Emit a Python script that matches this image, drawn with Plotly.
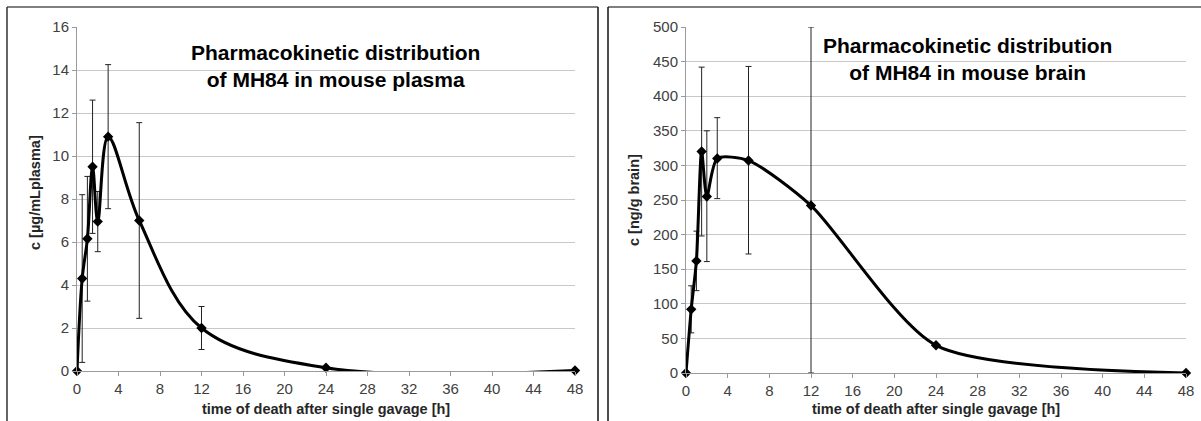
import plotly.graph_objects as go

W, H = 1201, 421

# sampling times [h]
times = [0, 0.5, 1, 1.5, 2, 3, 6, 12, 24, 48]

# plasma concentration [ug/mL] and error bars
plasma = [0, 4.3, 6.15, 9.5, 6.95, 10.9, 7.0, 2.0, 0.15, 0.02]
plasma_err = [0, 3.9, 2.9, 3.1, 1.4, 3.35, 4.55, 1.0, 0, 0]

# brain concentration [ng/g] and error bars
brain = [0, 92, 162, 320, 255, 310, 307, 242, 40, 0]
brain_err_up = [0, 34, 43, 122, 95, 59, 136, 258, 0, 0]
brain_err_down = [0, 34, 43, 122, 94, 58, 135, 242, 0, 0]

x_ticks = list(range(0, 49, 4))


def px(x):
    return x / W


def py(y):
    return 1 - y / H


fig = go.Figure()

fig.add_trace(go.Scatter(
    x=times, y=plasma, xaxis='x', yaxis='y',
    mode='lines+markers',
    line=dict(color='black', width=3, shape='spline', smoothing=1),
    marker=dict(symbol='diamond', size=8, color='black'),
    error_y=dict(type='data', array=plasma_err, color='#222222', thickness=1, width=3),
    cliponaxis=False, showlegend=False))

fig.add_trace(go.Scatter(
    x=times, y=brain, xaxis='x2', yaxis='y2',
    mode='lines+markers',
    line=dict(color='black', width=3, shape='spline', smoothing=0.7),
    marker=dict(symbol='diamond', size=8, color='black'),
    error_y=dict(type='data', array=brain_err_up, arrayminus=brain_err_down,
                 symmetric=False, color='#222222', thickness=1, width=3),
    cliponaxis=False, showlegend=False))

tick_font = dict(family='Liberation Sans, Arial', size=15, color='#404040')

xaxis_style = dict(range=[0, 48], tickvals=x_ticks, showgrid=False, zeroline=False,
                   showline=True, linecolor='#9a9a9a', linewidth=1,
                   ticks='outside', ticklen=4, tickcolor='#9a9a9a',
                   tickfont=tick_font, automargin=False)
yaxis_style = dict(showgrid=True, gridcolor='#c8c8c8', gridwidth=1, zeroline=False,
                   showline=True, linecolor='#9a9a9a', linewidth=1,
                   ticks='outside', ticklen=4, tickcolor='#9a9a9a',
                   tickfont=tick_font, automargin=False)

fig.update_layout(
    width=W, height=H,
    margin=dict(l=0, r=0, t=0, b=0, pad=0),
    paper_bgcolor='white', plot_bgcolor='white',
    xaxis=dict(domain=[px(77), px(575)], anchor='y', **xaxis_style),
    yaxis=dict(domain=[py(371), py(27)], anchor='x', range=[0, 16], dtick=2, **yaxis_style),
    xaxis2=dict(domain=[px(686), px(1186)], anchor='y2', **xaxis_style),
    yaxis2=dict(domain=[py(373), py(27)], anchor='x2', range=[0, 500], dtick=50, **yaxis_style),
)

title_font = dict(family='Liberation Sans, Arial', size=21, color='black')
label_font = dict(family='Liberation Sans, Arial', size=14.5, color='#262626')

annotations = [
    dict(text='<b>Pharmacokinetic distribution<br>of MH84 in mouse plasma</b>',
         x=px(335), y=py(66), font=title_font),
    dict(text='<b>Pharmacokinetic distribution<br>of MH84 in mouse brain</b>',
         x=px(967), y=py(59), font=title_font),
    dict(text='<b>time of death after single gavage [h]</b>',
         x=px(326), y=py(409), font=label_font),
    dict(text='<b>time of death after single gavage [h]</b>',
         x=px(936), y=py(409), font=label_font),
    dict(text='<b>c [µg/mLplasma]</b>', textangle=-90,
         x=px(35), y=py(193), font=label_font),
    dict(text='<b>c [ng/g brain]</b>', textangle=-90,
         x=px(634), y=py(200), font=label_font),
]
for a in annotations:
    fig.add_annotation(xref='paper', yref='paper', showarrow=False,
                       xanchor='center', yanchor='middle', align='center', **a)

# panel frames
frames = [
    (7, 7, 598, 7, '#7f7f7f', 2),
    (7, 7, 7, 421, '#333333', 1.5),
    (598, 7, 598, 421, '#111111', 1.5),
    (608, 7, 1201, 7, '#7f7f7f', 2),
    (608, 7, 608, 421, '#111111', 1.5),
]
for x0, y0, x1, y1, c, w in frames:
    fig.add_shape(type='line', xref='paper', yref='paper',
                  x0=px(x0), y0=py(y0), x1=px(x1), y1=py(y1),
                  line=dict(color=c, width=w))

fig.write_html("out.html", config={'displayModeBar': False},
               post_script="document.body.style.margin='0';document.body.style.overflow='hidden';")
